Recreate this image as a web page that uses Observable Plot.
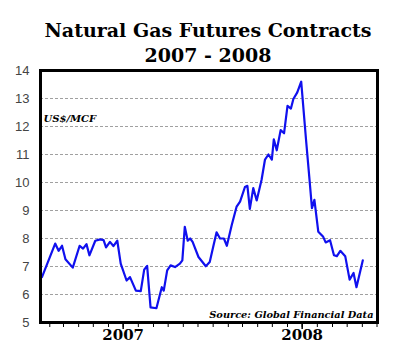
<!DOCTYPE html>
<html>
<head>
<meta charset="utf-8">
<script src="https://cdn.jsdelivr.net/npm/d3@7"></script>
<script src="https://cdn.jsdelivr.net/npm/@observablehq/plot@0.6"></script>
<style>
  html, body { margin: 0; padding: 0; background: #fff; }
  #wrap { width: 400px; height: 356px; position: relative; }
  #title { height: 60px; box-sizing: border-box; padding-top: 18px; text-align: center;
    font-family: "DejaVu Serif", serif; font-weight: bold; font-size: 19px; line-height: 25px; color: #000; padding-left: 16px; }
</style>
</head>
<body>
<div id="wrap">
  <div id="title">Natural Gas Futures Contracts<br>2007 - 2008</div>
  <div id="chart"></div>
</div>
<script>
const dates = [
  "2007-01-16","2007-02-12","2007-02-19","2007-02-26","2007-03-05","2007-03-20","2007-04-03","2007-04-10",
  "2007-04-17","2007-04-23","2007-05-05","2007-05-15","2007-05-22","2007-05-27","2007-06-04","2007-06-11",
  "2007-06-19","2007-06-26","2007-07-08","2007-07-15","2007-07-27","2007-08-06","2007-08-13","2007-08-19",
  "2007-08-26","2007-09-07","2007-09-18","2007-09-22","2007-09-29","2007-10-06","2007-10-15","2007-10-25",
  "2007-10-30","2007-11-04","2007-11-10","2007-11-15","2007-11-20","2007-12-02","2007-12-17","2007-12-25",
  "2008-01-01","2008-01-08","2008-01-15","2008-01-23","2008-01-29","2008-02-08","2008-02-18","2008-02-25",
  "2008-03-06","2008-03-11","2008-03-16","2008-03-23","2008-03-30","2008-04-09","2008-04-16","2008-04-23",
  "2008-04-30","2008-05-04","2008-05-10","2008-05-18","2008-05-25","2008-06-01","2008-06-08","2008-06-13",
  "2008-06-21","2008-06-29","2008-07-09","2008-07-16","2008-07-21","2008-07-26","2008-08-03","2008-08-13",
  "2008-08-18","2008-08-27","2008-09-04","2008-09-10","2008-09-17","2008-09-27","2008-10-06","2008-10-14",
  "2008-10-20","2008-11-02"
];
const prices = [
  6.62,7.82,7.56,7.74,7.26,6.96,7.74,7.64,
  7.80,7.40,7.92,7.97,7.94,7.68,7.88,7.73,
  7.92,7.10,6.50,6.62,6.14,6.12,6.89,7.02,
  5.54,5.51,6.26,6.14,6.86,7.04,6.98,7.10,
  7.22,8.42,7.92,8.00,7.88,7.34,7.01,7.16,
  7.70,8.22,8.00,8.00,7.74,8.48,9.14,9.32,
  9.84,9.88,9.06,9.80,9.36,10.10,10.82,11.00,
  10.82,11.54,11.15,11.87,11.76,12.74,12.64,12.98,
  13.22,13.60,11.50,10.10,9.08,9.38,8.24,8.06,
  7.86,7.94,7.40,7.37,7.56,7.37,6.53,6.77,
  6.26,7.22
];
const yTicks = [5,6,7,8,9,10,11,12,13,14];
const gridValues = [6,7,8,9,10,11,12,13];
const yearLabels = ["2007","2008"];
const yearTickDates = ["2007-07-01","2008-07-01"];
const xStart = "2007-01-13", xEnd = "2008-12-02";
const unitLabel = "US$/MCF";
const sourceLabel = "Source: Global Financial Data";

const data = dates.map((d, i) => ({date: new Date(d), price: prices[i]}));
const monthTicks = d3.utcMonth.range(new Date(xStart), new Date(xEnd));
const yearTicks = yearTickDates.map(d => new Date(d));

const chart = Plot.plot({
  width: 400,
  height: 296,
  marginTop: 10,
  marginBottom: 34,
  marginLeft: 40,
  marginRight: 23,
  style: {background: "#fff", overflow: "visible"},
  x: {type: "utc", domain: [new Date(xStart), new Date(xEnd)]},
  y: {domain: [5, 14]},
  marks: [
    Plot.ruleY(gridValues, {stroke: "#a0a0a0", strokeDasharray: "3,2", strokeWidth: 1}),
    Plot.axisY({ticks: yTicks, tickSize: 0, tickPadding: 11, fontSize: 13,
      fontFamily: "Liberation Sans, Arial, sans-serif", fill: "#444", label: null}),
    Plot.axisX({ticks: monthTicks, tickSize: 5, tickFormat: () => "", label: null, strokeWidth: 1}),
    Plot.axisX({ticks: yearTicks, tickSize: 7, tickPadding: 0, label: null,
      tickFormat: (d, i) => yearLabels[i], fontSize: 15,
      fontFamily: "DejaVu Serif, serif", fontWeight: "bold", fill: "#000", strokeWidth: 1.5}),
    Plot.line(data, {x: "date", y: "price", stroke: "#1010ee", strokeWidth: 2.2}),
    Plot.text([unitLabel], {frameAnchor: "top-left", dx: 3, dy: 44, text: d => d,
      fontFamily: "DejaVu Serif, serif", fontWeight: "bold", fontStyle: "italic", fontSize: 10, fill: "#000"}),
    Plot.text([sourceLabel], {frameAnchor: "bottom-right", dx: -4, dy: -5, text: d => d,
      fontFamily: "DejaVu Serif, serif", fontWeight: "bold", fontStyle: "italic", fontSize: 9.8, fill: "#000"}),
    Plot.frame({stroke: "#000", strokeWidth: 3})
  ]
});
document.getElementById("chart").appendChild(chart);
</script>
</body>
</html>
